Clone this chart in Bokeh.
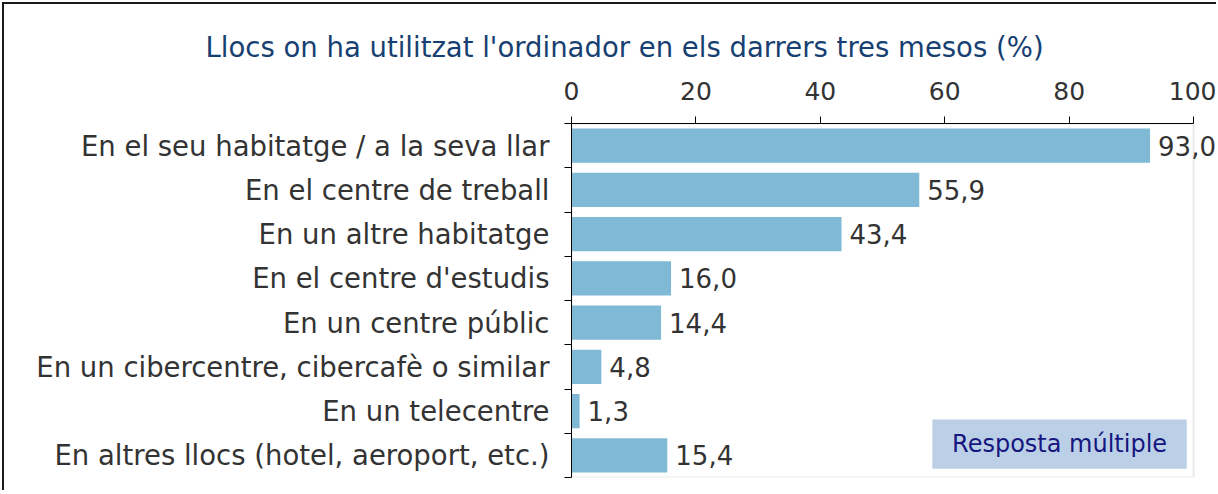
from bokeh.plotting import figure
from bokeh.models import Range1d, FixedTicker, BoxAnnotation, Label, LabelSet, ColumnDataSource
from bokeh.core.properties import value
from bokeh.embed import file_html
from bokeh.resources import INLINE

categories = [
    "En el seu habitatge / a la seva llar",
    "En el centre de treball",
    "En un altre habitatge",
    "En el centre d'estudis",
    "En un centre públic",
    "En un cibercentre, cibercafè o similar",
    "En un telecentre",
    "En altres llocs (hotel, aeroport, etc.)",
]
values = [93.0, 55.9, 43.4, 16.0, 14.4, 4.8, 1.3, 15.4]
x_ticks = [0, 20, 40, 60, 80, 100]
title_text = "Llocs on ha utilitzat l'ordinador en els darrers tres mesos (%)"
note_text = "Resposta múltiple"

FONT = "DejaVu Sans"
centers = [i + 0.5 for i in range(len(categories))]
bounds = list(range(len(categories) + 1))
labels = [f"{v:.1f}".replace(".", ",") for v in values]

src = ColumnDataSource(dict(y=centers, v=values, lab=labels))

W, H = 1214, 488
p = figure(width=W, height=H, output_backend="svg", toolbar_location=None,
           x_range=Range1d(0, 104.0), y_range=Range1d(len(categories), 0),
           x_axis_location="above", title=title_text,
           min_border_left=567, min_border_right=0, min_border_top=119, min_border_bottom=15)
p.styles = {"margin-left": "2px", "margin-top": "2px",
            "border-left": "2px solid #1a1a1a", "border-top": "2px solid #1a1a1a"}

p.title.text_font = FONT
p.title.text_font_size = "27.5px"
p.title.text_font_style = "normal"
p.title.text_color = "#173F72"
p.title.align = "left"
p.title.offset = -366
p.title.standoff = 31

# gray plot-area frame (right and bottom visible; left/top covered by black axes)
p.add_layout(BoxAnnotation(left=0, right=100, top=0, bottom=len(categories),
                           fill_color=None, fill_alpha=0, line_color="#BBBBBB", line_width=2,
                           level="underlay"))

p.hbar(y="y", right="v", left=0, height=0.77, source=src, color="#80B9D5", line_color=None)
p.add_layout(LabelSet(x="v", y="y", text="lab", source=src, x_offset=8,
                      text_align="left", text_baseline="middle",
                      text_font=value(FONT), text_font_size="26px", text_color="#333333"))

p.xgrid.visible = False
p.ygrid.visible = False
p.outline_line_color = None

xa = p.xaxis[0]
xa.ticker = FixedTicker(ticks=x_ticks, minor_ticks=[])
xa.bounds = (0, 100)
xa.axis_line_color = "#000000"
xa.major_tick_line_color = "#000000"
xa.major_tick_out = 7
xa.major_tick_in = 0
xa.minor_tick_line_color = None
xa.major_label_text_font = FONT
xa.major_label_text_font_size = "25px"
xa.major_label_text_color = "#333333"
xa.major_label_standoff = 17

ya = p.yaxis[0]
ya.ticker = FixedTicker(ticks=centers, minor_ticks=bounds)
ya.major_label_overrides = {c: name for c, name in zip(centers, categories)}
ya.axis_line_color = "#000000"
ya.major_tick_line_color = None
ya.major_tick_out = 7
ya.major_tick_in = 0
ya.minor_tick_line_color = "#000000"
ya.minor_tick_out = 7
ya.minor_tick_in = 0
ya.major_label_text_font = FONT
ya.major_label_text_font_size = "27.5px"
ya.major_label_text_color = "#333333"
ya.major_label_standoff = 15

box = BoxAnnotation(left=58.0, right=98.9, top=6.69, bottom=7.80,
                    fill_color="#BBD0E7", fill_alpha=1.0, line_color=None, level="underlay")
p.add_layout(box)
p.add_layout(Label(x=78.45, y=7.245, text=note_text, text_align="center", text_baseline="middle",
                   text_font=FONT, text_font_size="24px", text_color="#16167F", level="overlay"))

open("out.html", "w").write(file_html(p, INLINE))
